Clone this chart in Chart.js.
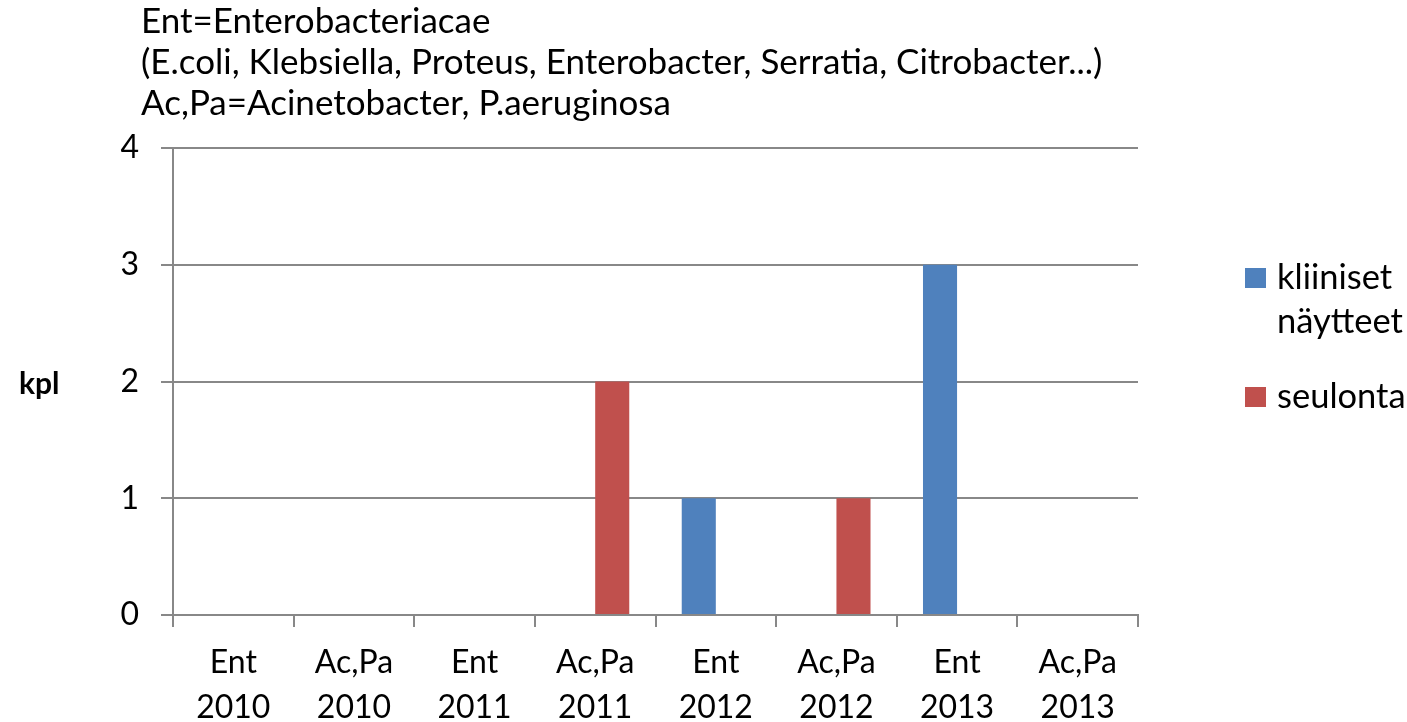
<!DOCTYPE html>
<html>
<head>
<meta charset="utf-8">
<script src="https://cdn.jsdelivr.net/npm/chart.js@4.4.1/dist/chart.umd.min.js"></script>
<style>
  html, body { margin: 0; padding: 0; background: #fff; }
  #wrap { width: 1407px; height: 722px; }
</style>
</head>
<body>
<div id="wrap"><canvas id="myChart" width="1407" height="722"></canvas></div>
<script>
// data
const categories = [
  ["Ent", "2010"], ["Ac,Pa", "2010"], ["Ent", "2011"], ["Ac,Pa", "2011"],
  ["Ent", "2012"], ["Ac,Pa", "2012"], ["Ent", "2013"], ["Ac,Pa", "2013"]
];
const kliiniset = [0, 0, 0, 0, 1, 0, 3, 0];
const seulonta = [0, 0, 0, 2, 0, 1, 0, 0];
const yTicks = [0, 1, 2, 3, 4];

const titleLines = [
  "Ent=Enterobacteriacae",
  "(E.coli, Klebsiella, Proteus, Enterobacter, Serratia, Citrobacter...)",
  "Ac,Pa=Acinetobacter, P.aeruginosa"
];
const legendItems = [
  { lines: ["kliiniset", "näytteet"], color: "#4F81BD" },
  { lines: ["seulonta"], color: "#C0504D" }
];

const FONT = "Lato, 'Open Sans', sans-serif";
const GRID = "#888888";

// title block, axis title "kpl" and the side legend
const extras = {
  id: "extras",
  afterDraw(chart) {
    const ctx = chart.ctx;
    ctx.save();
    ctx.fillStyle = "#000";
    ctx.textBaseline = "alphabetic";
    ctx.textAlign = "left";

    ctx.font = "35px " + FONT;
    titleLines.forEach((t, i) => ctx.fillText(t, 141, 33 + i * 41));

    ctx.font = "bold 30px " + FONT;
    ctx.fillText("kpl", 19, 394);

    ctx.font = "34.5px " + FONT;
    const baselines = [289, 408];
    legendItems.forEach((item, k) => {
      const y = baselines[k];
      ctx.fillStyle = item.color;
      ctx.fillRect(1245, y - 21, 21, 20);
      ctx.fillStyle = "#000";
      item.lines.forEach((l, i) => ctx.fillText(l, 1277, y + i * 44));
    });
    ctx.restore();
  }
};

const data = {
  labels: categories,
  datasets: [
    { label: "kliiniset näytteet", data: kliiniset, backgroundColor: "#4F81BD" },
    { label: "seulonta", data: seulonta, backgroundColor: "#C0504D" }
  ]
};

const config = {
  type: "bar",
  data: data,
  options: {
    responsive: false,
    animation: false,
    layout: { padding: { top: 148, right: 269, left: 0, bottom: 0 } },
    categoryPercentage: 0.565,
    barPercentage: 1,
    scales: {
      x: {
        offset: true,
        grid: { drawOnChartArea: false, color: GRID, lineWidth: 2, tickLength: 12 },
        border: { color: GRID, width: 2 },
        ticks: { color: "#000", font: { family: FONT, size: 32, lineHeight: 1.406 }, padding: 13, maxRotation: 0, autoSkip: false },
        afterFit(s) { s.height = 107; }
      },
      y: {
        min: 0,
        max: 4,
        afterBuildTicks(s) { s.ticks = yTicks.map((v) => ({ value: v })); },
        grid: { color: GRID, lineWidth: 2, tickLength: 12 },
        border: { color: GRID, width: 2 },
        ticks: { color: "#000", font: { family: FONT, size: 32 }, padding: 22 },
        afterFit(s) { s.width = 173; }
      }
    },
    plugins: {
      legend: { display: false },
      tooltip: { enabled: false }
    }
  },
  plugins: [extras]
};

const myChart = new Chart(document.getElementById("myChart"), config);
</script>
</body>
</html>
